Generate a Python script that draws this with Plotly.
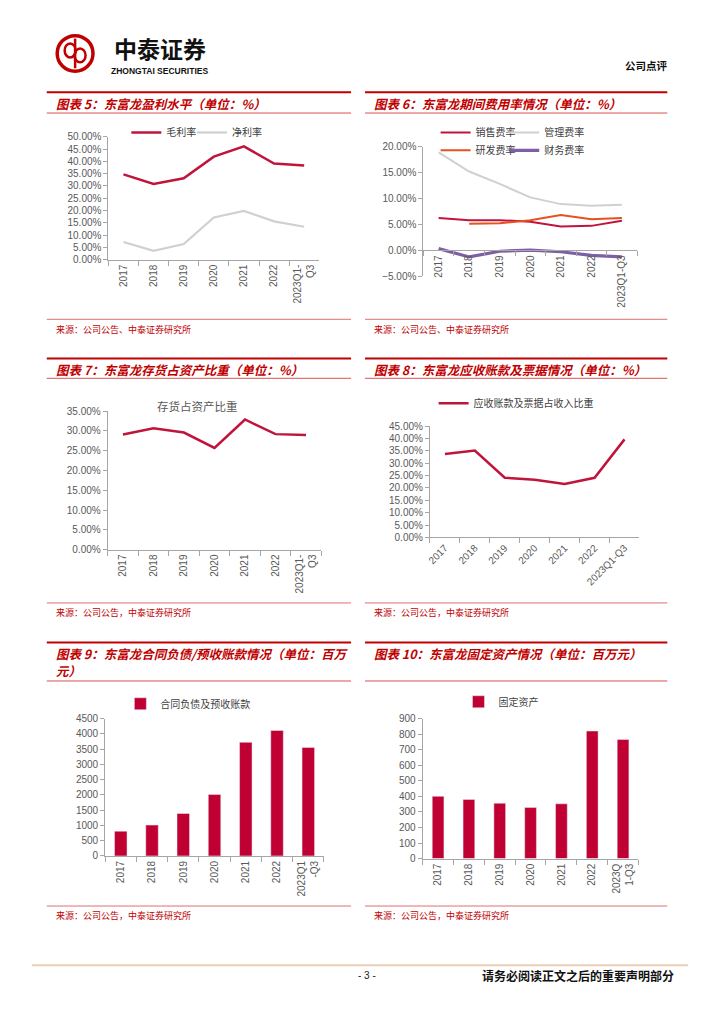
import plotly.graph_objects as go

W, H = 724, 1024

# ---------------- data ----------------
years = ["2017", "2018", "2019", "2020", "2021", "2022"]

labels5 = years + ["2023Q1-<br>Q3"]
gross_margin = [34.7, 30.8, 33.1, 41.9, 46.1, 39.1, 38.3]
net_margin = [7.2, 3.6, 6.4, 17.2, 19.8, 15.6, 13.4]

labels6 = years + ["2023Q1-Q3"]
selling_rate = [6.2, 5.8, 5.8, 5.5, 4.6, 4.7, 5.7]
admin_rate = [18.9, 15.2, 12.8, 10.2, 8.9, 8.6, 8.8]
rd_rate = [None, 5.1, 5.2, 5.8, 6.8, 6.0, 6.2]
finance_rate = [0.3, -1.3, -0.2, 0.0, -0.3, -1.0, -1.3]

labels7 = years + ["2023Q1-<br>Q3"]
inventory_ratio = [29.1, 30.7, 29.6, 25.7, 32.9, 29.2, 29.0]

labels8 = years + ["2023Q1-Q3"]
receivable_ratio = [33.7, 35.1, 24.1, 23.3, 21.6, 24.1, 39.6]

labels9 = years + ["2023Q1<br>-Q3"]
contract_liab = [810, 1010, 1390, 2010, 3720, 4110, 3550]

labels10 = years + ["2023Q<br>1-Q3"]
fixed_assets = [400, 380, 356, 328, 352, 820, 765]

titles = {
    5: ["图表 5：东富龙盈利水平（单位：%）"],
    6: ["图表 6：东富龙期间费用率情况（单位：%）"],
    7: ["图表 7：东富龙存货占资产比重（单位：%）"],
    8: ["图表 8：东富龙应收账款及票据情况（单位：%）"],
    9: ["图表 9：东富龙合同负债/预收账款情况（单位：百万", "元）"],
    10: ["图表 10：东富龙固定资产情况（单位：百万元）"],
}
source_a = "来源：公司公告、中泰证券研究所"
source_b = "来源：公司公告，中泰证券研究所"

# ---------------- helpers ----------------
def px(x):
    return x / W


def py(y):
    return 1 - y / H


RED = "#C00000"
LINE_RED = "#C0143C"
BAR_RED = "#C00032"
GRAY_LINE = "#D0D0D0"
ORANGE = "#E8501E"
PURPLE = "#7E5FA6"
AX = "#A6A6A6"
CJK = "Noto Sans CJK SC"
TICK_FONT = dict(family="Liberation Sans, Arial, sans-serif", size=10, color="#595959")


def xaxis(left, right, anchor, angle=-90, **kw):
    d = dict(domain=[px(left), px(right)], anchor=anchor, type="category",
             range=[-0.5, 6.5], showline=True, linecolor=AX, linewidth=1,
             ticks="outside", tickson="boundaries", ticklen=5, tickcolor=AX,
             showgrid=False, zeroline=False, tickangle=angle, tickfont=TICK_FONT,
             fixedrange=True)
    d.update(kw)
    return d


def yaxis(top, bottom, anchor, rng, dtick, fmt, suffix):
    return dict(domain=[py(bottom), py(top)], anchor=anchor, range=rng, dtick=dtick,
                tick0=0, tickformat=fmt, ticksuffix=suffix, showline=True,
                linecolor=AX, linewidth=1, ticks="outside", ticklen=4, tickcolor=AX,
                showgrid=False, zeroline=False, tickfont=TICK_FONT, fixedrange=True)


fig = go.Figure()

# ---- chart 5
fig.add_trace(go.Scatter(x=labels5, y=gross_margin, name="毛利率", mode="lines",
                         line=dict(color=LINE_RED, width=2.5), xaxis="x", yaxis="y", legend="legend"))
fig.add_trace(go.Scatter(x=labels5, y=net_margin, name="净利率", mode="lines",
                         line=dict(color=GRAY_LINE, width=2.2), xaxis="x", yaxis="y", legend="legend2"))
# ---- chart 6
fig.add_trace(go.Scatter(x=labels6, y=selling_rate, name="销售费率", mode="lines",
                         line=dict(color=LINE_RED, width=2), xaxis="x2", yaxis="y2", legend="legend3"))
fig.add_trace(go.Scatter(x=labels6, y=admin_rate, name="管理费率", mode="lines",
                         line=dict(color=GRAY_LINE, width=2), xaxis="x2", yaxis="y2", legend="legend4"))
fig.add_trace(go.Scatter(x=labels6, y=rd_rate, name="研发费率", mode="lines",
                         line=dict(color=ORANGE, width=2), xaxis="x2", yaxis="y2", legend="legend5"))
fig.add_trace(go.Scatter(x=labels6, y=finance_rate, name="财务费率", mode="lines",
                         line=dict(color=PURPLE, width=3.2), xaxis="x2", yaxis="y2", legend="legend6"))
# ---- chart 7
fig.add_trace(go.Scatter(x=labels7, y=inventory_ratio, name="存货占资产比重", mode="lines",
                         line=dict(color=LINE_RED, width=2.5), xaxis="x3", yaxis="y3", showlegend=False))
# ---- chart 8
fig.add_trace(go.Scatter(x=labels8, y=receivable_ratio, name="应收账款及票据占收入比重", mode="lines",
                         line=dict(color=LINE_RED, width=2.5), xaxis="x4", yaxis="y4", legend="legend7"))
# ---- chart 9
fig.add_trace(go.Bar(x=labels9, y=contract_liab, name="合同负债及预收账款", width=0.4,
                     marker=dict(color=BAR_RED), xaxis="x5", yaxis="y5", legend="legend8"))
# ---- chart 10
fig.add_trace(go.Bar(x=labels10, y=fixed_assets, name="固定资产", width=0.38,
                     marker=dict(color=BAR_RED), xaxis="x6", yaxis="y6", legend="legend9"))

zero6 = 247.3  # pixel row of value 0 in chart 6

layout = dict(
    width=W, height=H, margin=dict(l=0, r=0, t=0, b=0),
    paper_bgcolor="white", plot_bgcolor="white", showlegend=True,
    xaxis=xaxis(105, 317, "y"),
    yaxis=yaxis(132.3, 256.7, "x", [0, 50], 5, ".2f", "%"),
    xaxis2=xaxis(421.7, 636.7, "free", position=py(zero6)),
    yaxis2=yaxis(142.3, 273.3, "x2", [-5, 20], 5, ".2f", "%"),
    xaxis3=xaxis(104.3, 319, "y3"),
    yaxis3=yaxis(410, 550, "x3", [0, 35], 5, ".2f", "%"),
    xaxis4=xaxis(428.3, 639, "y4", angle=-45),
    yaxis4=yaxis(425, 537.7, "x4", [0, 45], 5, ".2f", "%"),
    xaxis5=xaxis(101.7, 321.7, "y5"),
    yaxis5=yaxis(721, 860, "x5", [0, 4500], 500, "d", ""),
    xaxis6=xaxis(421, 638, "y6"),
    yaxis6=yaxis(721, 862.7, "x6", [0, 900], 100, "d", ""),
)

leg_common = dict(orientation="h", bgcolor="rgba(0,0,0,0)", itemwidth=30,
                  font=dict(family=CJK, size=10, color="#404040"),
                  xanchor="left", yanchor="middle", itemclick=False, itemdoubleclick=False)
legend_pos = {
    "legend": (123, 128),
    "legend2": (189, 128),
    "legend3": (434, 128),
    "legend4": (503, 128),
    "legend5": (434, 146),
    "legend6": (503, 146),
    "legend7": (432, 402),
    "legend8": (117, 706),
    "legend9": (457, 704),
}
for key, (lx, ly) in legend_pos.items():
    layout[key] = dict(leg_common, x=px(lx), y=py(ly))

fig.update_layout(**layout)

# ---------------- decorations ----------------
shapes = []
annotations = []


def hline(x0, x1, y, color, width):
    shapes.append(dict(type="line", xref="paper", yref="paper", x0=px(x0), x1=px(x1),
                       y0=py(y), y1=py(y), line=dict(color=color, width=width)))


def text(x, y, s, size, color, anchor="left", family=CJK, weight="normal", style="normal"):
    annotations.append(dict(xref="paper", yref="paper", x=px(x), y=py(y), text=s,
                            showarrow=False, xanchor=anchor, yanchor="middle", align="left",
                            font=dict(family=family, size=size, color=color, weight=weight, style=style)))


panels = [
    # left, right, top line, underline, source line, first title row y, title key, source
    (43, 349, 87.3, 108.3, 317, 98.5, 5, source_a),
    (363, 667, 87.3, 108.3, 317, 98.5, 6, source_a),
    (43, 349, 356.7, 376.7, 604, 367.5, 7, source_b),
    (363, 667, 356.7, 376.7, 604, 367.5, 8, source_b),
    (43, 349, 644, 683, 910.7, 655, 9, source_b),
    (363, 667, 644, 683, 910.7, 655, 10, source_b),
]
for l, r, top, under, src, ty, key, src_txt in panels:
    hline(l, r, top, RED, 2)
    hline(l, r, under, "#D9534F", 1)
    hline(l, r, src, "#E07070", 1)
    for i, row in enumerate(titles[key]):
        text(l + 7, ty + 17 * i, row, 12.5, RED, weight="bold", style="italic")
    text(l + 7, src + 10, src_txt, 9, RED)

# chart 7 inner title
text(195, 405, "存货占资产比重", 11.5, "#595959", anchor="center")

# header logo
shapes.append(dict(type="circle", xref="paper", yref="paper", x0=px(53.5), x1=px(89.5),
                   y0=py(66), y1=py(30), line=dict(color=RED, width=3.5)))
shapes.append(dict(type="circle", xref="paper", yref="paper", x0=px(61), x1=px(72),
                   y0=py(52), y1=py(38), line=dict(color=RED, width=2.5)))
shapes.append(dict(type="circle", xref="paper", yref="paper", x0=px(71), x1=px(82),
                   y0=py(57), y1=py(43), line=dict(color=RED, width=2.5)))
shapes.append(dict(type="line", xref="paper", yref="paper", x0=px(71.5), x1=px(71.5),
                   y0=py(63), y1=py(33), line=dict(color=RED, width=2.5)))
text(156.5, 43, "中泰证券", 23, "#111111", anchor="center", weight="bold")
text(156.5, 65.5, "ZHONGTAI SECURITIES", 8.5, "#111111", anchor="center",
     family="Liberation Sans, Arial, sans-serif", weight="bold")
text(670, 60, "公司点评", 10.5, "#111111", anchor="right", weight="bold")

# footer
hline(28, 688, 970.5, "#EBCDB4", 2)
text(365, 981.5, "- 3 -", 10, "#222222", anchor="center", family="Liberation Sans, Arial, sans-serif")
text(676, 981.5, "请务必阅读正文之后的重要声明部分", 12, "#111111", anchor="right", weight="bold")

fig.update_layout(shapes=shapes, annotations=annotations)

fig.write_html("out.html", config={"displayModeBar": False},
               post_script="document.body.style.margin='0';")
